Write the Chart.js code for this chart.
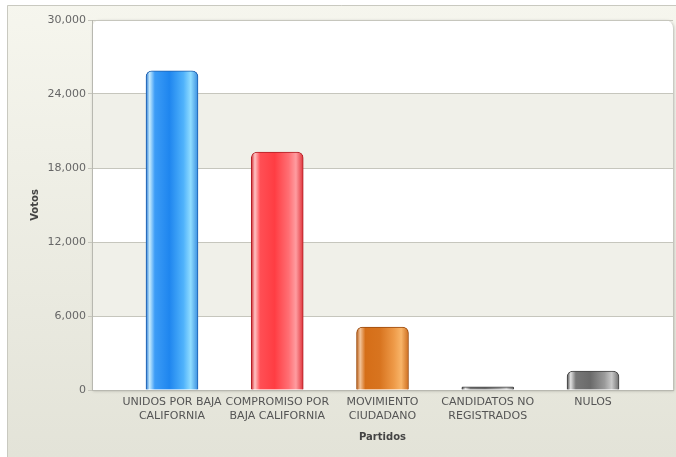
<!DOCTYPE html>
<html>
<head>
<meta charset="utf-8">
<script src="https://cdn.jsdelivr.net/npm/chart.js@4.4.1/dist/chart.umd.min.js"></script>
<style>
  html, body { margin: 0; padding: 0; background: #fff; }
  #wrap { width: 676px; height: 457px; }
</style>
</head>
<body>
<div id="wrap"><canvas id="myChart" width="676" height="457"></canvas></div>
<script>
// Party names (x axis categories, split on two lines like the original)
const partidos = [
    ['UNIDOS POR BAJA', 'CALIFORNIA'],
    ['COMPROMISO POR', 'BAJA CALIFORNIA'],
    ['MOVIMIENTO', 'CIUDADANO'],
    ['CANDIDATOS NO', 'REGISTRADOS'],
    ['NULOS']
];

// Votes per party
const votos = [25870, 19300, 5100, 250, 1540];

// Y axis ticks
const yTicks = [0, 6000, 12000, 18000, 24000, 30000];

// Gradient stops for each bar (left edge -> right edge)
const barColors = [
    ['#2a78d2', '#c4ebff', '#3c9cf6', '#1f86ef', '#4fb2fb', '#8fdcff', '#3a8fe0'],
    ['#d2262c', '#ffc4c4', '#ff4f55', '#ff3d43', '#ff6f74', '#ff9ca0', '#e0333a'],
    ['#b85a12', '#f2c49a', '#d56e18', '#d8741f', '#ee9a48', '#f8b468', '#cf6f1f'],
    ['#4a4a4a', '#e0e0e0', '#777777', '#6a6a6a', '#9a9a9a', '#c8c8c8', '#707070']
];
const barBorders = ['#1d5fae', '#b01e24', '#9a4a0e', '#444444'];
const colorIndex = [0, 1, 2, 3, 3];

// Build {x, y} points so the bars sit on a linear x scale with wide side margins
const points = votos.map((v, i) => ({ x: i, y: v }));

function barGradient(ctx) {
    const chart = ctx.chart;
    const xs = chart.scales.x;
    const stops = barColors[colorIndex[ctx.dataIndex] || 0];
    if (!xs || ctx.dataIndex === undefined) return stops[3];
    const cx = xs.getPixelForValue(ctx.dataIndex);
    if (!isFinite(cx)) return stops[3];
    const g = chart.ctx.createLinearGradient(cx - 26, 0, cx + 26, 0);
    const pos = [0, 0.07, 0.17, 0.45, 0.72, 0.86, 1];
    stops.forEach((c, k) => g.addColorStop(pos[k], c));
    return g;
}

// Background: page gradient, frame lines, white plot with alternating bands
const backdrop = {
    id: 'backdrop',
    beforeDraw(chart) {
        const c = chart.ctx;
        const a = chart.chartArea;
        const y = chart.scales.y;
        c.save();
        const bg = c.createLinearGradient(0, 0, 0, chart.height);
        bg.addColorStop(0, '#f6f6ee');
        bg.addColorStop(1, '#e3e3d8');
        c.fillStyle = bg;
        c.fillRect(7, 5, chart.width - 7, chart.height - 5);
        c.strokeStyle = '#c9c9c0';
        c.lineWidth = 1;
        c.beginPath();
        c.moveTo(7.5, chart.height);
        c.lineTo(7.5, 5.5);
        c.lineTo(chart.width, 5.5);
        c.stroke();

        // plot panel with shadow
        c.shadowColor = 'rgba(0,0,0,0.25)';
        c.shadowBlur = 3;
        c.shadowOffsetX = 1;
        c.shadowOffsetY = 1;
        c.fillStyle = '#ffffff';
        c.beginPath();
        c.roundRect(a.left, a.top, a.right - a.left, a.bottom - a.top, [8, 8, 0, 0]);
        c.fill();
        c.shadowColor = 'transparent';

        // alternating bands
        c.fillStyle = '#f0f0e9';
        for (let k = 1; k < yTicks.length - 1; k += 2) {
            const top = y.getPixelForValue(yTicks[k + 1]);
            const bot = y.getPixelForValue(yTicks[k]);
            c.fillRect(a.left, top, a.right - a.left, bot - top);
        }
        c.restore();
    }
};

const ctx = document.getElementById('myChart');

new Chart(ctx, {
    type: 'bar',
    data: {
        datasets: [{
            label: 'Votos',
            data: points,
            backgroundColor: barGradient,
            borderColor: (c) => barBorders[colorIndex[c.dataIndex] || 0],
            borderWidth: 1,
            borderSkipped: 'bottom',
            borderRadius: { topLeft: 6, topRight: 6, bottomLeft: 0, bottomRight: 0 },
            barThickness: 52
        }]
    },
    options: {
        responsive: false,
        animation: false,
        devicePixelRatio: 1,
        layout: { padding: { left: 22, top: 20, right: 3, bottom: 10 } },
        plugins: {
            legend: { display: false },
            tooltip: { enabled: false }
        },
        scales: {
            x: {
                type: 'linear',
                offset: false,
                min: -0.76,
                max: 4.76,
                grid: { display: false, drawTicks: false },
                border: { display: true, color: '#b8b8b0' },
                afterBuildTicks: (scale) => {
                    scale.ticks = partidos.map((p, i) => ({ value: i }));
                },
                afterFit: (scale) => { scale.height = 57; },
                ticks: {
                    autoSkip: false,
                    maxRotation: 0,
                    padding: 6,
                    color: '#555555',
                    font: { family: 'DejaVu Sans', size: 11 },
                    callback: (v) => partidos[v]
                },
                title: {
                    display: true,
                    text: 'Partidos',
                    color: '#444444',
                    font: { family: 'DejaVu Sans', size: 10, weight: 'bold' },
                    padding: { top: 4, bottom: 4 }
                }
            },
            y: {
                min: 0,
                max: 30000,
                afterBuildTicks: (scale) => {
                    scale.ticks = yTicks.map((v) => ({ value: v }));
                },
                afterFit: (scale) => { scale.width = 70; },
                grid: { color: '#c6c6bd', tickLength: 4, tickColor: '#c6c6bd' },
                border: { display: true, color: '#b8b8b0' },
                ticks: {
                    color: '#666666',
                    padding: 2,
                    font: { family: 'DejaVu Sans', size: 11 },
                    callback: (v) => v.toLocaleString('en-US')
                },
                title: {
                    display: true,
                    text: 'Votos',
                    color: '#444444',
                    font: { family: 'DejaVu Sans', size: 10, weight: 'bold' },
                    padding: { top: 7, bottom: 0 }
                }
            }
        }
    },
    plugins: [backdrop]
});
</script>
</body>
</html>
